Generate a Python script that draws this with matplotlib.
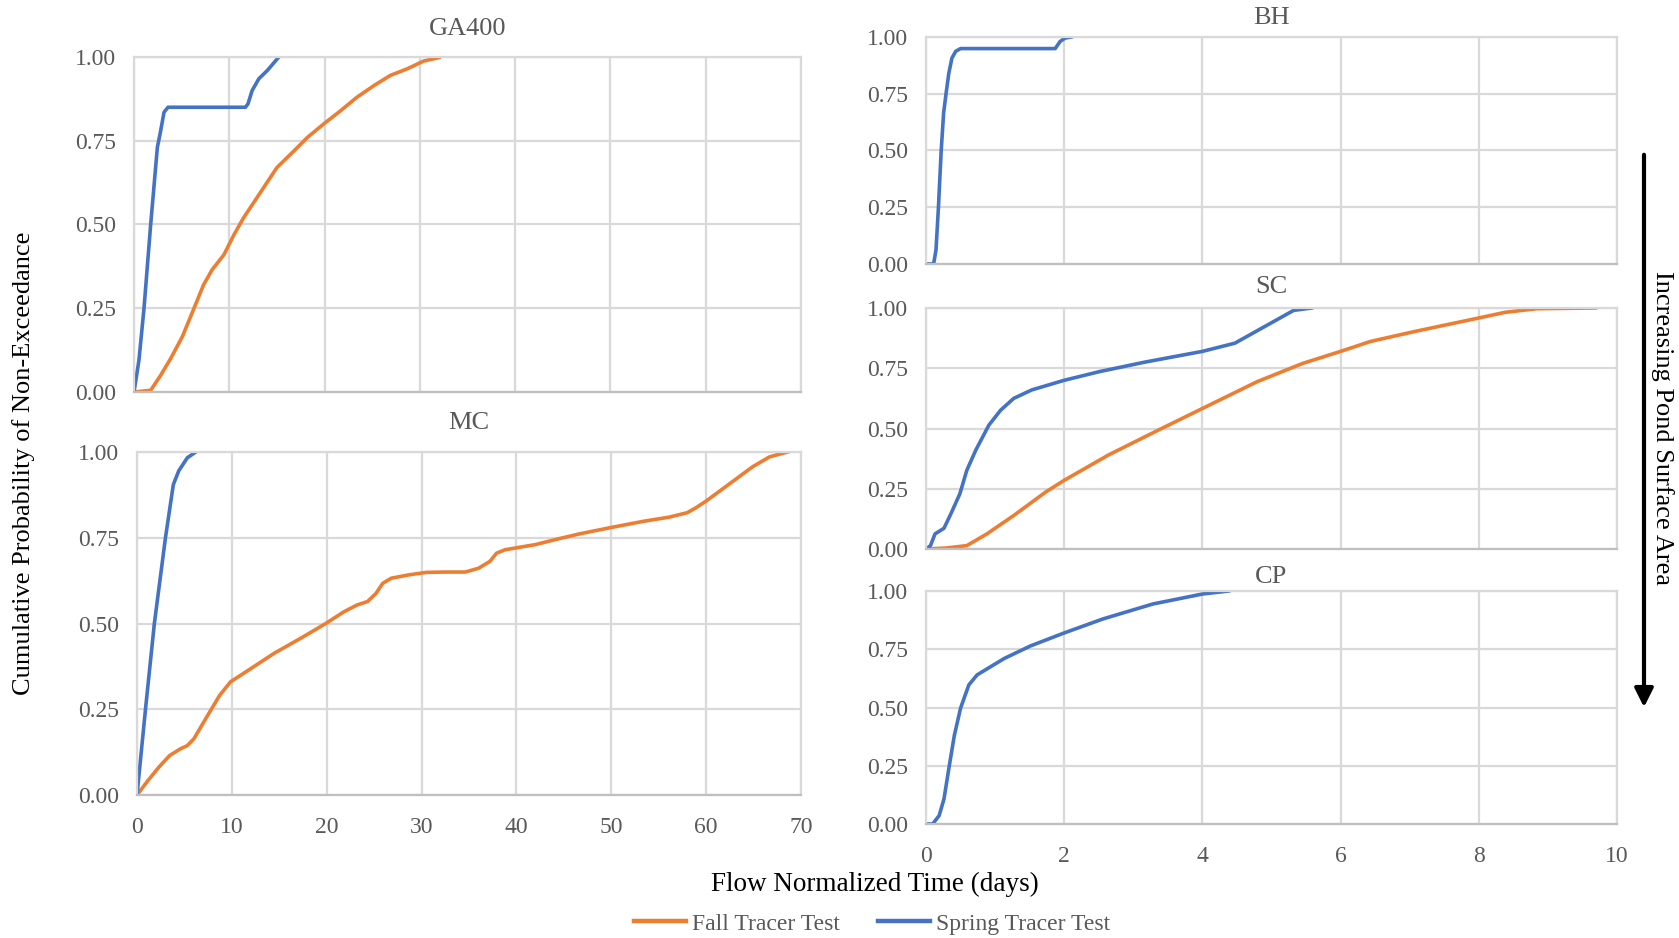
import numpy as np
import matplotlib
matplotlib.use('Agg')
import matplotlib.pyplot as plt
from matplotlib.patches import FancyArrowPatch
from matplotlib.ticker import FormatStrFormatter

# GA400
ga_spring_t = [0, 0.52, 1.05, 1.75, 2.45, 2.8, 3.15, 3.57, 11.7, 11.96, 12.4, 13.1, 14.0, 15.2]
ga_spring_p = [0, 0.095, 0.25, 0.50, 0.73, 0.78, 0.835, 0.85, 0.85, 0.86, 0.90, 0.935, 0.96, 1.0]
ga_fall_t = [0, 1.75, 2.8, 3.85, 5.07, 6.3, 7.3, 8.2, 9.44, 10.5, 11.5, 12.9, 15.0, 16.8,
             18.2, 19.9, 21.7, 23.4, 25.2, 26.9, 28.7, 30.4, 32.0]
ga_fall_p = [0, 0.005, 0.05, 0.10, 0.165, 0.25, 0.32, 0.365, 0.41, 0.47, 0.52, 0.58, 0.67, 0.72,
             0.76, 0.80, 0.84, 0.88, 0.915, 0.945, 0.965, 0.988, 0.998]

# MC
mc_spring_t = [0, 0.92, 1.83, 3.0, 3.83, 4.4, 5.3, 6.2]
mc_spring_p = [0, 0.257, 0.50, 0.75, 0.905, 0.945, 0.983, 1.0]
mc_fall_t = [0, 1.15, 2.3, 3.44, 4.6, 5.3, 6.0, 7.34, 8.7, 9.86, 11.2, 14.45, 17.2, 19.9, 21.8,
             23.2, 24.3, 25.2, 25.9, 26.8, 28.7, 30.5, 32.4, 34.6, 36.0, 37.2, 37.9, 38.8, 42.0,
             44.3, 46.6, 50.0, 53.4, 56.1, 58.0, 58.9, 60.0, 62.6, 64.9, 66.7, 68.6]
mc_fall_p = [0, 0.042, 0.081, 0.115, 0.135, 0.144, 0.164, 0.227, 0.29, 0.33, 0.354, 0.413, 0.456,
             0.50, 0.534, 0.554, 0.564, 0.588, 0.617, 0.632, 0.642, 0.649, 0.65, 0.65, 0.661, 0.681,
             0.705, 0.715, 0.73, 0.746, 0.761, 0.78, 0.798, 0.81, 0.823, 0.837, 0.857, 0.91, 0.957,
             0.986, 1.0]

# BH
bh_spring_t = [0, 0.11, 0.145, 0.18, 0.22, 0.255, 0.29, 0.33, 0.375, 0.43, 0.50, 1.87, 1.94, 2.01, 2.1]
bh_spring_p = [0, 0, 0.063, 0.25, 0.50, 0.665, 0.75, 0.84, 0.907, 0.937, 0.949, 0.949, 0.98, 0.995, 1.0]

# SC
sc_spring_t = [0, 0.065, 0.13, 0.26, 0.36, 0.49, 0.59, 0.72, 0.91, 1.08, 1.27, 1.53, 2.0, 2.51,
               3.16, 4.0, 4.47, 4.92, 5.32, 5.58]
sc_spring_p = [0, 0.014, 0.0625, 0.086, 0.146, 0.229, 0.326, 0.41, 0.514, 0.576, 0.625, 0.66,
               0.70, 0.736, 0.775, 0.82, 0.854, 0.926, 0.99, 1.0]
sc_fall_t = [0, 0.29, 0.59, 0.88, 1.27, 1.73, 2.0, 2.64, 3.36, 4.0, 4.79, 5.45, 6.0, 6.43, 7.08,
             7.99, 8.38, 8.84, 9.69]
sc_fall_p = [0, 0.004, 0.014, 0.0625, 0.139, 0.236, 0.285, 0.39, 0.493, 0.583, 0.694, 0.77, 0.82,
             0.861, 0.903, 0.958, 0.982, 0.997, 1.0]

# CP
cp_spring_t = [0, 0.096, 0.19, 0.26, 0.335, 0.41, 0.50, 0.62, 0.74, 1.13, 1.51, 2.0, 2.56, 3.28, 4.0, 4.38]
cp_spring_p = [0, 0, 0.036, 0.107, 0.246, 0.38, 0.497, 0.597, 0.64, 0.71, 0.764, 0.82, 0.88, 0.944, 0.987, 1.0]

orange = '#ED7D31'
blue = '#4472C4'
grey_txt = '#595959'
grid_c = '#d9d9d9'

plt.rcParams['font.family'] = ['Liberation Serif', 'DejaVu Serif']

W, H = 1679, 938
fig = plt.figure(figsize=(W / 100, H / 100), dpi=100)


def px_axes(l, r, t, b):
    return fig.add_axes([l / W, 1 - b / H, (r - l) / W, (b - t) / H])


def style(ax, xmax, step, show_x):
    ax.set_xlim(0, xmax)
    ax.set_ylim(0, 1)
    ax.set_xticks(np.arange(0, xmax + step / 2, step))
    ax.set_yticks([0, 0.25, 0.5, 0.75, 1.0])
    ax.yaxis.set_major_formatter(FormatStrFormatter('%.2f'))
    ax.grid(True, color=grid_c, lw=1.6)
    ax.set_axisbelow(True)
    for s in ax.spines.values():
        s.set_color(grid_c)
        s.set_linewidth(1.6)
    ax.spines['bottom'].set_color('#bfbfbf')
    ax.tick_params(length=0, labelsize=17, labelcolor=grey_txt)
    ax.tick_params(axis='y', pad=13)
    ax.tick_params(axis='x', pad=16)
    if not show_x:
        ax.tick_params(labelbottom=False)


def title(ax, text, ypx):
    pos = ax.get_position()
    fig.text(pos.x0 + pos.width / 2, 1 - ypx / H, text, ha='center', va='center',
             fontsize=19, color=grey_txt)


lw = 2.6

ax1 = px_axes(134, 801, 57, 392)
style(ax1, 70, 10, False)
ax1.plot(ga_fall_t, ga_fall_p, color=orange, lw=lw)
ax1.plot(ga_spring_t, ga_spring_p, color=blue, lw=lw)
title(ax1, 'GA400', 29)

ax2 = px_axes(137, 801, 452, 795)
style(ax2, 70, 10, True)
ax2.plot(mc_fall_t, mc_fall_p, color=orange, lw=lw)
ax2.plot(mc_spring_t, mc_spring_p, color=blue, lw=lw)
title(ax2, 'MC', 423)

ax3 = px_axes(926, 1617, 37, 264)
style(ax3, 10, 2, False)
ax3.plot(bh_spring_t, bh_spring_p, color=blue, lw=lw)
title(ax3, 'BH', 18)

ax4 = px_axes(926, 1617, 308, 549)
style(ax4, 10, 2, False)
ax4.plot(sc_fall_t, sc_fall_p, color=orange, lw=lw)
ax4.plot(sc_spring_t, sc_spring_p, color=blue, lw=lw)
title(ax4, 'SC', 287)

ax5 = px_axes(926, 1617, 591, 824)
style(ax5, 10, 2, True)
ax5.plot(cp_spring_t, cp_spring_p, color=blue, lw=lw)
title(ax5, 'CP', 577)

fig.text(24 / W, 1 - 463 / H, 'Cumulative Probability of Non-Exceedance', rotation=90,
         ha='center', va='center', fontsize=19, color='black')
fig.text(875 / W, 1 - 884 / H, 'Flow Normalized Time (days)', ha='center', va='center',
         fontsize=19.5, color='black')
fig.text(1662 / W, 1 - 428 / H, 'Increasing Pond Surface Area', rotation=270,
         ha='center', va='center', fontsize=19, color='black')

arrow = FancyArrowPatch((1644 / W, 1 - 152 / H), (1644 / W, 1 - 710 / H),
                        transform=fig.transFigure, arrowstyle='-|>', mutation_scale=28,
                        lw=3, color='black')
fig.patches.append(arrow)

h1, = ax1.plot([], [], color=orange, lw=3.2, label='Fall Tracer Test')
h2, = ax1.plot([], [], color=blue, lw=3.2, label='Spring Tracer Test')
leg = fig.legend(handles=[h1, h2], loc='center', bbox_to_anchor=(872 / W, 1 - 924 / H),
                 ncol=2, frameon=False, fontsize=17, handlelength=2.2, handletextpad=0.25,
                 columnspacing=1.6)
for t in leg.get_texts():
    t.set_color(grey_txt)

fig.savefig('out.png', dpi=100)
